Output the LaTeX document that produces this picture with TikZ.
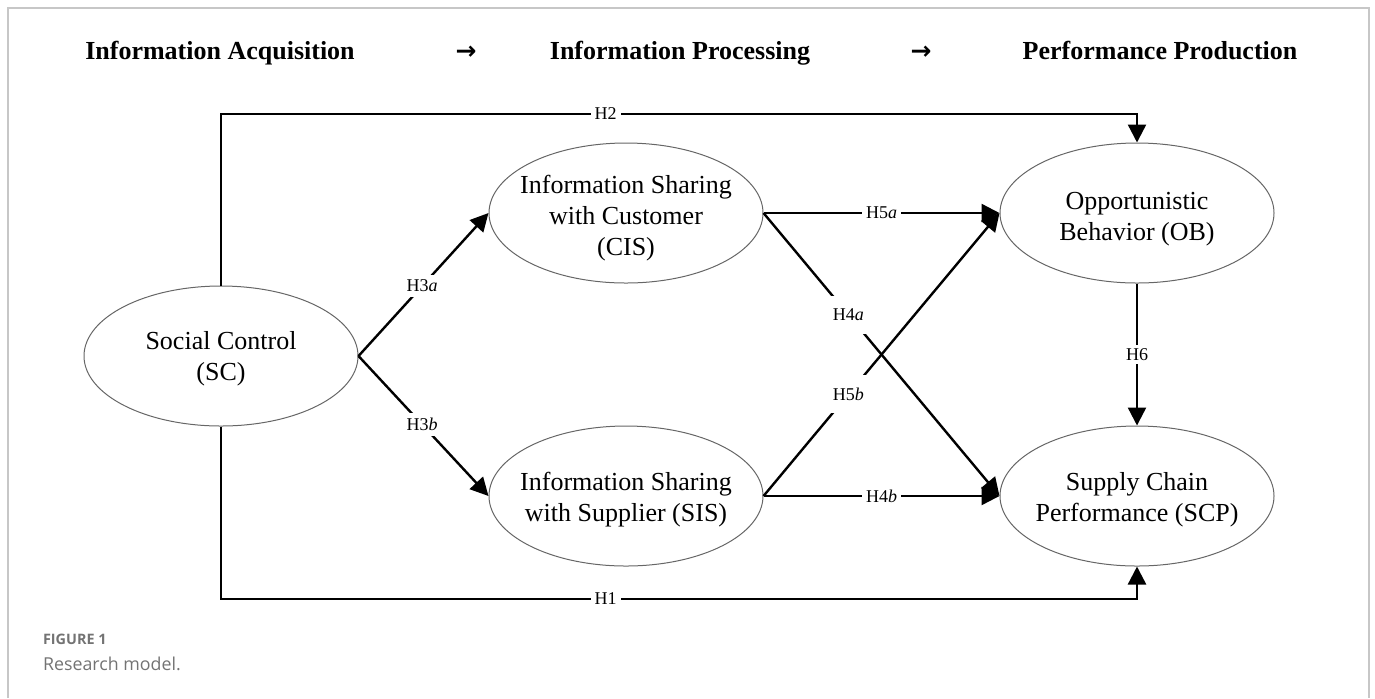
\documentclass[tikz,border=0pt]{standalone}
\usepackage{fontspec}
\setmainfont{Liberation Serif}
\newfontfamily\capfont{Open Sans}
\newfontfamily\arrowfont{DejaVu Sans}
\usetikzlibrary{arrows.meta, positioning, calc, shapes.geometric}

\begin{document}
\begin{tikzpicture}[x=0.5pt, y=-0.5pt, >={Triangle[length=9pt, width=9pt]}, line join=miter]
	
	%======================
	% STYLES
	%======================
	\tikzset{
		construct/.style={ellipse, draw=black!60, line width=0.5pt, minimum width=137pt, minimum height=70pt,
			inner sep=0pt},
		ctext/.style={align=center, inner sep=0pt, yshift=-2.5pt, font=\fontsize{13}{15.5}\selectfont},
		link/.style={line width=1.2pt, ->},
		hyp/.style={fill=white, inner xsep=2pt, inner ysep=1.5pt, font=\fontsize{9}{10}\selectfont},
		hypwide/.style={hyp, inner sep=6.5pt},
		hypdiag/.style={hyp, inner sep=2.5pt},
		stage/.style={anchor=base, font=\fontsize{13}{15}\selectfont\bfseries},
		stagearrow/.style={anchor=base, font=\arrowfont\bfseries\fontsize{12.5}{14}\selectfont},
		frame/.style={draw=black!22, line width=0.8pt},
		captitle/.style={anchor=west, text=black!55, font=\capfont\bfseries\fontsize{7.2}{9}\selectfont},
		captext/.style={anchor=west, text=black!55, font=\capfont\fontsize{8.9}{11}\selectfont}
	}
	
	\useasboundingbox (0,0) rectangle (1375,698);
	\draw[frame] (8,698) -- (8,8) -- (1369,8) -- (1369,698);
	
	%======================
	% STAGES (top row)
	%======================
	\node[stage] (acq)  at (220,59)  {Information Acquisition};
	\node[stage] (proc) at (680,59)  {Information Processing};
	\node[stage] (prod) at (1160,59) {Performance Production};
	\node[stagearrow] (arr1) at (466,59) {→};
	\node[stagearrow] (arr2) at (921,59) {→};
	
	%======================
	% CONSTRUCTS
	%======================
	\node[construct, label={[ctext, yshift=1pt]center:Social Control\\(SC)}] (SC) at (221,356) {};
	\node[construct, label={[ctext]center:Information Sharing\\with Customer\\(CIS)}] (CIS) at (626,213) {};
	\node[construct, label={[ctext, yshift=0.5pt]center:Information Sharing\\with Supplier (SIS)}] (SIS) at (626,496) {};
	\node[construct, label={[ctext, yshift=-0.5pt]center:Opportunistic\\Behavior (OB)}] (OB) at (1137,213) {};
	\node[construct, label={[ctext, yshift=0.5pt]center:Supply Chain\\Performance (SCP)}] (SCP) at (1137,496) {};
	
	%======================
	% PATHS
	%======================
	% direct effects run round the outside
	\coordinate (topL) at (SC.north |- 0,114);
	\coordinate (topR) at (OB.north |- 0,114);
	\coordinate (botL) at (SC.south |- 0,599);
	\coordinate (botR) at (SCP.south |- 0,599);
	\draw[link] (SC.north) -- (topL) -- node[hyp, pos=0.42] {H2} (topR) -- (OB.north);
	\draw[link] (SC.south) -- (botL) -- node[hyp, pos=0.42] {H1} (botR) -- (SCP.south);
	
	% social control -> information sharing
	\draw[link] (SC.east) -- node[hypdiag, pos=0.49] {H3\textit{a}} (CIS.west);
	\draw[link] (SC.east) -- node[hypdiag, pos=0.49] {H3\textit{b}} (SIS.west);
	
	% information sharing -> outcomes
	\draw[link] (CIS.east) -- node[hyp] {H5\textit{a}} (OB.west);
	\draw[link] (SIS.east) -- node[hyp] {H4\textit{b}} (SCP.west);
	\draw[link] (CIS.east) -- node[hypwide, pos=0.36] {H4\textit{a}} (SCP.west);
	\draw[link] (SIS.east) -- node[hypwide, pos=0.36] {H5\textit{b}} (OB.west);
	
	\draw[link] (OB.south) -- node[hyp] {H6} (SCP.north);
	
	%======================
	% CAPTION
	%======================
	\node[captitle] (figno) at (36,639) {FIGURE 1};
	\node[captext]  (figcap) at (36,664) {Research model.};
\end{tikzpicture}
\end{document}
